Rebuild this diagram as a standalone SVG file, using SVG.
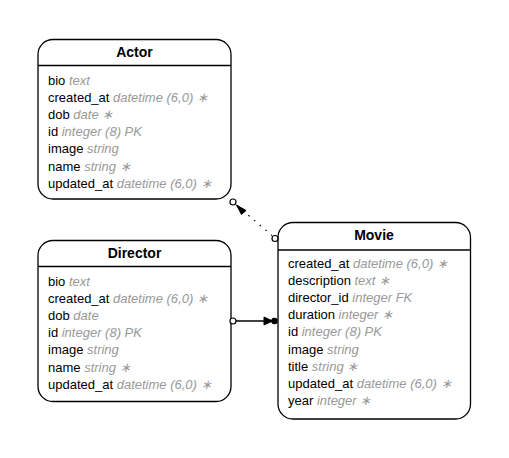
<svg xmlns="http://www.w3.org/2000/svg" width="509" height="458" viewBox="0 0 509 458">
<style>
.box{fill:#fff;stroke:#000;stroke-width:1.3}
.div{stroke:#000;stroke-width:1.3}
.t{font-family:"Liberation Sans",Arial,sans-serif;font-size:14px;font-weight:bold;text-anchor:middle;fill:#000}
.f{font-family:"Liberation Sans",Arial,sans-serif;font-size:13px;fill:#000}
.ty{font-style:italic;fill:#999}
.ln{stroke:#000;stroke-width:1.3;fill:none}
</style>
<rect width="509" height="458" fill="#fff"/>
<g id="actor">
<rect class="box" x="38" y="39.5" width="193" height="159.5" rx="15"/>
<line class="div" x1="38" y1="65.5" x2="231" y2="65.5"/>
<text class="t" x="134.5" y="57">Actor</text>
<text class="f" x="48" y="84.5">bio <tspan class="ty">text</tspan></text>
<text class="f" x="48" y="101.7">created_at <tspan class="ty">datetime (6,0) ∗</tspan></text>
<text class="f" x="48" y="118.9">dob <tspan class="ty">date ∗</tspan></text>
<text class="f" x="48" y="136.1">id <tspan class="ty">integer (8) PK</tspan></text>
<text class="f" x="48" y="153.3">image <tspan class="ty">string</tspan></text>
<text class="f" x="48" y="170.5">name <tspan class="ty">string ∗</tspan></text>
<text class="f" x="48" y="187.7">updated_at <tspan class="ty">datetime (6,0) ∗</tspan></text>
</g>
<g id="director">
<rect class="box" x="38" y="240.5" width="193" height="161" rx="15"/>
<line class="div" x1="38" y1="266.5" x2="231" y2="266.5"/>
<text class="t" x="134.5" y="258">Director</text>
<text class="f" x="48" y="285.5">bio <tspan class="ty">text</tspan></text>
<text class="f" x="48" y="302.7">created_at <tspan class="ty">datetime (6,0) ∗</tspan></text>
<text class="f" x="48" y="319.9">dob <tspan class="ty">date</tspan></text>
<text class="f" x="48" y="337.1">id <tspan class="ty">integer (8) PK</tspan></text>
<text class="f" x="48" y="354.3">image <tspan class="ty">string</tspan></text>
<text class="f" x="48" y="371.5">name <tspan class="ty">string ∗</tspan></text>
<text class="f" x="48" y="388.7">updated_at <tspan class="ty">datetime (6,0) ∗</tspan></text>
</g>
<g id="movie">
<rect class="box" x="278" y="222.5" width="192.5" height="196.5" rx="15"/>
<line class="div" x1="278" y1="250" x2="470.5" y2="250"/>
<text class="t" x="374" y="240">Movie</text>
<text class="f" x="288" y="267.5">created_at <tspan class="ty">datetime (6,0) ∗</tspan></text>
<text class="f" x="288" y="284.7">description <tspan class="ty">text ∗</tspan></text>
<text class="f" x="288" y="301.9">director_id <tspan class="ty">integer FK</tspan></text>
<text class="f" x="288" y="319.1">duration <tspan class="ty">integer ∗</tspan></text>
<text class="f" x="288" y="336.3">id <tspan class="ty">integer (8) PK</tspan></text>
<text class="f" x="288" y="353.5">image <tspan class="ty">string</tspan></text>
<text class="f" x="288" y="370.7">title <tspan class="ty">string ∗</tspan></text>
<text class="f" x="288" y="387.9">updated_at <tspan class="ty">datetime (6,0) ∗</tspan></text>
<text class="f" x="288" y="405.1">year <tspan class="ty">integer ∗</tspan></text>
</g>
<g id="connectors">
<g id="actor-movie">
<line class="ln" x1="237" y1="205.5" x2="272" y2="235.5" stroke-dasharray="1.5,6"/>
<polygon points="236.5,205 246,210.5 241.5,214.5" fill="#000" stroke="#000" stroke-width="1"/>
<circle cx="233" cy="202" r="3" fill="#fff" stroke="#000" stroke-width="1.2"/>
<circle cx="275" cy="238.5" r="3" fill="#fff" stroke="#000" stroke-width="1.2"/>
</g>
<g id="director-movie">
<line class="ln" x1="236" y1="321" x2="272" y2="321"/>
<polygon points="264,317 272.5,321 264,325" fill="#000" stroke="#000" stroke-width="1"/>
<circle cx="274.5" cy="321" r="3.3" fill="#000"/>
<circle cx="233" cy="321" r="3" fill="#fff" stroke="#000" stroke-width="1.2"/>
</g>
</g>
</svg>
